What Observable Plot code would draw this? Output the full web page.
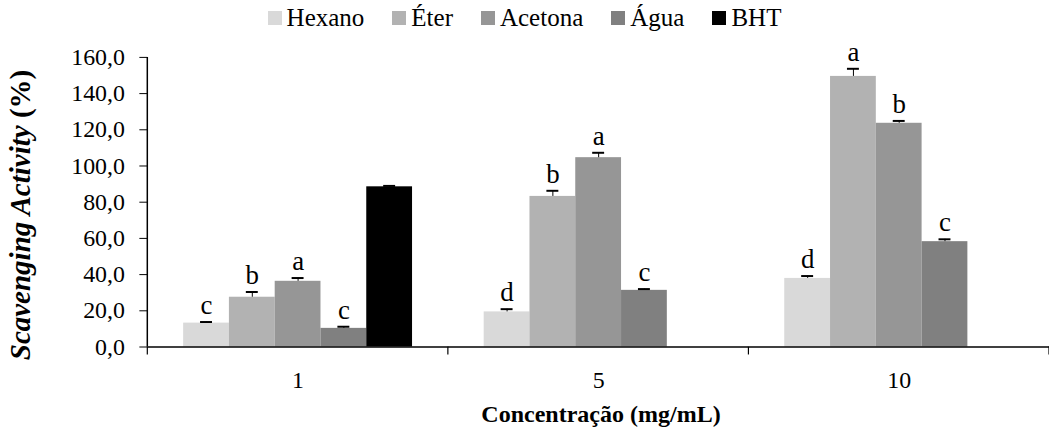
<!DOCTYPE html>
<html>
<head>
<meta charset="utf-8">
<style>
  html, body { margin: 0; padding: 0; background: #fff; }
  body { font-family: 'Liberation Serif', serif; color: #000; width: 1049px; height: 435px; overflow: hidden; }
  .lg { height: 35px; display: flex; justify-content: center; align-items: center; font-size: 25px; }
  .item { display: flex; align-items: center; margin: 0 14px; }
  .sw { width: 14px; height: 14px; margin-right: 5px; }
  #wrap { position: relative; width: 1049px; height: 400px; }
  #chart svg { display: block; }
  #xtitle { position: absolute; left: 148px; width: 906px; top: 364px; text-align: center; font-weight: bold; font-size: 24px; line-height: 30px; }
  #ytitle { position: absolute; left: 20px; top: 180px; width: 0; height: 0; }
  #ytitle div { position: absolute; transform: translate(-50%, -50%) rotate(-90deg); white-space: nowrap; font-weight: bold; font-size: 29px; line-height: 30px; }
</style>
<script src="https://cdn.jsdelivr.net/npm/d3@7"></script>
<script src="https://cdn.jsdelivr.net/npm/@observablehq/plot@0.6"></script>
</head>
<body>
<div class="lg" id="legend">
  <div class="item"><div class="sw" style="background:#d9d9d9"></div><span>Hexano</span></div>
  <div class="item"><div class="sw" style="background:#b2b2b2"></div><span>Éter</span></div>
  <div class="item"><div class="sw" style="background:#969696"></div><span>Acetona</span></div>
  <div class="item"><div class="sw" style="background:#808080"></div><span>Água</span></div>
  <div class="item"><div class="sw" style="background:#000000"></div><span>BHT</span></div>
</div>
<div id="wrap">
  <div id="chart"></div>
  <div id="ytitle"><div><i>Scavenging Activity</i> (%)</div></div>
  <div id="xtitle">Concentração (mg/mL)</div>
</div>
<script>
// ---- data ----
const concentrations = ["1", "5", "10"];
const series = ["Hexano", "Éter", "Acetona", "Água", "BHT"];
const colors = ["#d9d9d9", "#b2b2b2", "#969696", "#808080", "#000000"];
const yTicks = [0, 20, 40, 60, 80, 100, 120, 140, 160];

const hexano  = [13.2, 19.4, 37.9];
const eter    = [27.5, 83.2, 149.5];
const acetona = [36.3, 104.6, 123.6];
const agua    = [10.3, 31.3, 58.2];
const bht     = [88.5, null, null];

const hexanoErr  = [0.6, 1.5, 1.3];
const eterErr    = [2.9, 3.1, 4.2];
const acetonaErr = [1.8, 2.7, 1.3];
const aguaErr    = [0.9, 0.7, 1.3];
const bhtErr     = [0.5, null, null];

const hexanoLetters  = ["c", "d", "d"];
const eterLetters    = ["b", "b", "a"];
const acetonaLetters = ["a", "a", "b"];
const aguaLetters    = ["c", "c", "c"];
const bhtLetters     = ["", "", ""];

const values  = [hexano, eter, acetona, agua, bht];
const errs    = [hexanoErr, eterErr, acetonaErr, aguaErr, bhtErr];
const letters = [hexanoLetters, eterLetters, acetonaLetters, aguaLetters, bhtLetters];

const rows = [];
series.forEach((s, i) => {
  concentrations.forEach((c, j) => {
    if (values[i][j] != null) {
      rows.push({ series: s, conc: c, value: values[i][j], err: errs[i][j], letter: letters[i][j] });
    }
  });
});

// ---- chart ----
const fmt = d => d.toFixed(1).replace(".", ",");
const plot = Plot.plot({
  width: 1054,
  height: 400,
  marginLeft: 148,
  marginRight: 0,
  marginTop: 22,
  marginBottom: 87,
  style: { fontFamily: "Liberation Serif", fontSize: "24px", color: "#000", background: "#fff" },
  fx: { domain: concentrations, padding: 0, label: null, axis: "bottom", tickSize: 0, tickPadding: 24 },
  x: { domain: series, paddingInner: 0, paddingOuter: 0.75, axis: null },
  y: { domain: [0, 160], ticks: yTicks, tickFormat: fmt, tickSize: 8, tickPadding: 15, label: null },
  color: { domain: series, range: colors },
  marks: [
    Plot.barY(rows, { fx: "conc", x: "series", y: "value", fill: "series" }),
    Plot.ruleX(rows, { fx: "conc", x: "series", y1: "value", y2: d => d.value + d.err, stroke: "#000", strokeWidth: 1 }),
    Plot.tickY(rows, { fx: "conc", x: "series", y: d => d.value + d.err, stroke: "#000", strokeWidth: 2, insetLeft: 17, insetRight: 17 }),
    Plot.text(rows.filter(d => d.letter), { fx: "conc", x: "series", y: d => d.value + d.err, text: "letter", lineAnchor: "bottom", dy: -8, fontSize: 27, fill: "#000" }),
    Plot.ruleY([0], { stroke: "#000", strokeWidth: 1.5 })
  ]
});
document.getElementById("chart").appendChild(plot);

const svg = d3.select(plot);
const fxS = plot.scale("fx");
const yS = plot.scale("y");
const y0 = yS.apply(0), yTop = yS.apply(160);
const xLeft = fxS.apply(concentrations[0]);
svg.append("line").attr("x1", xLeft).attr("x2", xLeft).attr("y1", y0).attr("y2", yTop)
  .attr("stroke", "#000").attr("stroke-width", 1.5);
const bounds = concentrations.map(c => fxS.apply(c));
bounds.push(fxS.apply(concentrations[concentrations.length - 1]) + fxS.bandwidth);
bounds.forEach(bx => {
  svg.append("line").attr("x1", bx).attr("x2", bx).attr("y1", y0).attr("y2", y0 + 8)
    .attr("stroke", "#000").attr("stroke-width", 1.2);
});
svg.selectAll("text").attr("font-family", "Liberation Serif");
</script>
</body>
</html>
